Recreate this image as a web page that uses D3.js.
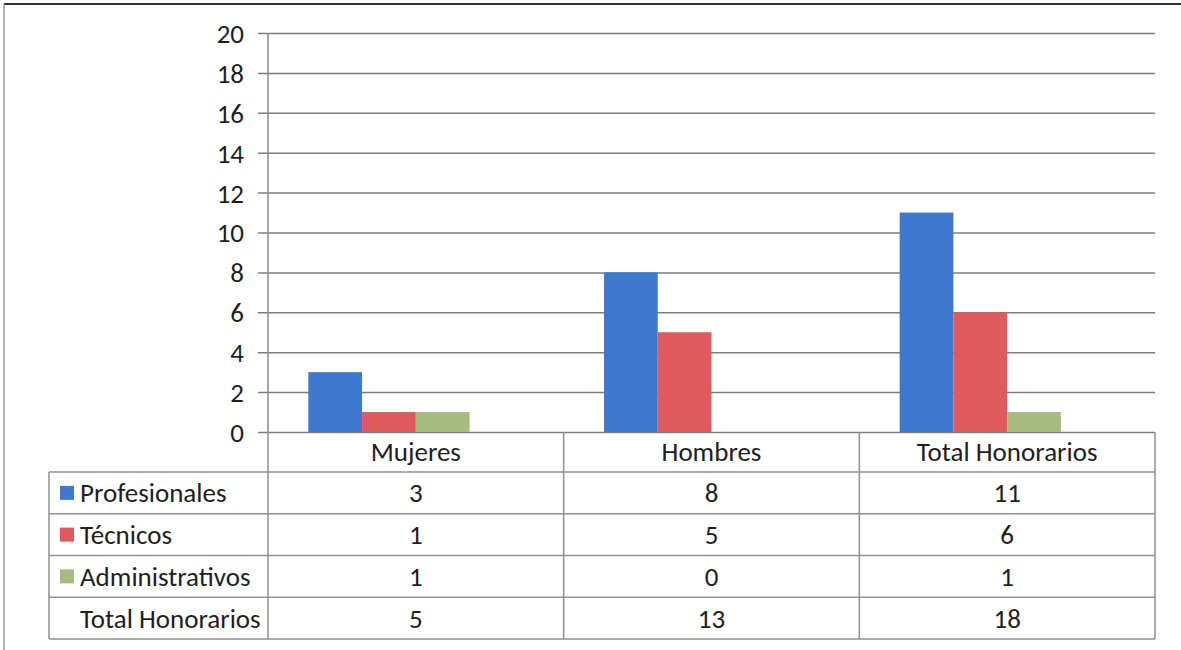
<!DOCTYPE html>
<html>
<head>
<meta charset="utf-8">
<script src="https://cdn.jsdelivr.net/npm/d3@7"></script>
<style>
  body { margin: 0; background: #fff; }
  svg { display: block; }
  text { font-family: Carlito, Lato, "Liberation Sans", sans-serif; fill: #1e1e1e; }
</style>
</head>
<body>
<svg id="chart" width="1181" height="650"></svg>
<script>
// data
var categories = ["Mujeres", "Hombres", "Total Honorarios"];
var seriesNames = ["Profesionales", "Técnicos", "Administrativos", "Total Honorarios"];
var profesionales = [3, 8, 11];
var tecnicos = [1, 5, 6];
var administrativos = [1, 0, 1];
var totalHonorarios = [5, 13, 18];
var yTicks = [0, 2, 4, 6, 8, 10, 12, 14, 16, 18, 20];
var colors = ["#3f78cc", "#df5a5f", "#a6bb80", "none"];

var seriesValues = [profesionales, tecnicos, administrativos, totalHonorarios];

function draw() {
    var svg = d3.select("#chart"),
        margins = {"left": 268, "right": 26, "top": 33, "bottom": 218},
        width = 1181,
        height = 650,
        tableLeft = 49,
        headerH = 40,
        rowH = 41.75,
        fs = "27px";

    var x0 = d3.scaleBand().domain(categories).range([margins.left, width - margins.right]).paddingInner(0),
        x1 = d3.scaleBand().domain(seriesNames).range([0, x0.bandwidth()]).paddingInner(0).paddingOuter(0.75),
        y = d3.scaleLinear().domain([0, 20]).range([height - margins.bottom, margins.top]);

    var plotBottom = y(0);

    // outer frame (scanned border)
    svg.append("line").attr("x1", 4).attr("x2", width).attr("y1", 4).attr("y2", 4)
        .attr("stroke", "#333").attr("stroke-width", 2);
    svg.append("line").attr("x1", 4).attr("x2", 4).attr("y1", 4).attr("y2", height)
        .attr("stroke", "#999").attr("stroke-width", 1.5);

    // gridlines + tick marks
    var yAxis = d3.axisLeft(y).tickValues(yTicks).tickSize(-(width - margins.right - margins.left)).tickFormat(d3.format("d"));
    var ga = svg.append("g").attr("transform", "translate(" + margins.left + ",0)").call(yAxis);
    ga.select(".domain").remove();
    ga.selectAll(".tick line").attr("x1", -10).attr("stroke", "#7d7d7d").attr("stroke-width", 1.5);
    ga.selectAll(".tick text").attr("x", -24).attr("dy", "0.35em")
        .style("font-size", fs).style("font-family", "Carlito, Lato, sans-serif").attr("fill", "#1e1e1e");

    // vertical axis line
    svg.append("line").attr("x1", margins.left).attr("x2", margins.left)
        .attr("y1", y(20)).attr("y2", plotBottom).attr("stroke", "#8a8a8a").attr("stroke-width", 1.5);

    // bars
    seriesNames.forEach(function(s, si) {
        if (colors[si] === "none") return;
        svg.append("g").selectAll("rect")
            .data(seriesValues[si])
            .enter().append("rect")
            .attr("x", (d, i) => x0(categories[i]) + x1(s))
            .attr("y", d => y(d))
            .attr("width", x1.bandwidth())
            .attr("height", d => plotBottom - y(d))
            .attr("fill", colors[si]);
    });

    // data table
    var tbl = svg.append("g");
    var lineStyle = function(sel) { return sel.attr("stroke", "#8f8f8f").attr("stroke-width", 1.5).attr("fill", "none"); };
    var tableBottom = plotBottom + headerH + rowH * seriesNames.length;

    // horizontal lines
    for (var r = 0; r <= seriesNames.length; r++) {
        var yy = plotBottom + headerH + r * rowH;
        tbl.append("line").attr("x1", tableLeft).attr("x2", width - margins.right)
            .attr("y1", yy).attr("y2", yy).call(lineStyle);
    }
    // vertical lines
    tbl.append("line").attr("x1", tableLeft).attr("x2", tableLeft)
        .attr("y1", plotBottom + headerH).attr("y2", tableBottom).call(lineStyle);
    categories.forEach(function(c) {
        tbl.append("line").attr("x1", x0(c)).attr("x2", x0(c))
            .attr("y1", plotBottom).attr("y2", tableBottom).call(lineStyle);
    });
    tbl.append("line").attr("x1", width - margins.right).attr("x2", width - margins.right)
        .attr("y1", plotBottom).attr("y2", tableBottom).call(lineStyle);

    // header
    tbl.selectAll(".hdr").data(categories).enter().append("text")
        .attr("x", d => x0(d) + x0.bandwidth() / 2)
        .attr("y", plotBottom + headerH / 2)
        .attr("dy", "0.35em").attr("text-anchor", "middle")
        .style("font-size", fs).text(d => d);

    // rows
    seriesNames.forEach(function(s, si) {
        var cy = plotBottom + headerH + si * rowH + rowH / 2;
        if (colors[si] !== "none") {
            tbl.append("rect").attr("x", 60).attr("y", cy - 7).attr("width", 14).attr("height", 14)
                .attr("fill", colors[si]);
        }
        tbl.append("text").attr("x", 80).attr("y", cy).attr("dy", "0.35em")
            .style("font-size", fs).text(s);
        tbl.selectAll(".v" + si).data(seriesValues[si]).enter().append("text")
            .attr("x", (d, i) => x0(categories[i]) + x0.bandwidth() / 2)
            .attr("y", cy).attr("dy", "0.35em").attr("text-anchor", "middle")
            .style("font-size", fs).text(d => d);
    });
}

draw();
</script>
</body>
</html>
